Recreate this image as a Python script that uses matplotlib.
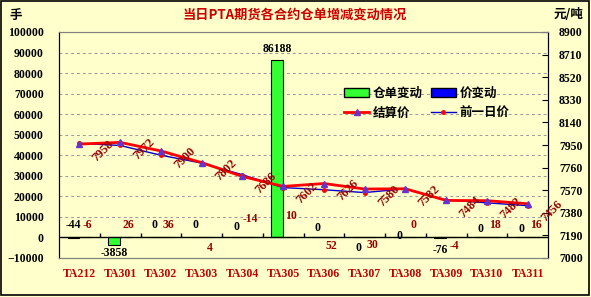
import matplotlib
matplotlib.use("Agg")
import matplotlib.pyplot as plt
import numpy as np
from matplotlib.patches import Patch, Rectangle
from matplotlib.lines import Line2D

# contracts and values
contracts = ['TA212', 'TA301', 'TA302', 'TA303', 'TA304', 'TA305',
             'TA306', 'TA307', 'TA308', 'TA309', 'TA310', 'TA311']
warrant_change = [-44, -3858, 0, 0, 0, 86188, 0, 0, 0, -76, 0, 0]
price_change = [-6, 26, 36, 4, -14, 10, 52, 30, 0, -4, 18, 16]
settle = [7958, 7972, 7900, 7802, 7686, 7602, 7626, 7580, 7582, 7484, 7482, 7456]
prev_price = [s - c for s, c in zip(settle, price_change)]

# where the value labels sit (left-axis units), as placed in the original
warrant_label_y = [6300, -7800, 6300, 6300, 5300, 91500, 4400, -4900, 500, -6300, 3900, 3900]
price_label_y = [6300, 6300, 6300, -5300, 9200, 10200, -4400, -3900, 6300, -4400, 6300, 6300]

bg = '#FFFFCC'
num_font = {'family': 'Liberation Serif', 'weight': 'bold', 'size': 8.5}
cjk = ['Noto Sans CJK SC', 'DejaVu Sans']

W, H = 591, 297
fig = plt.figure(figsize=(W / 100, H / 100), dpi=100, facecolor=bg)
ax = fig.add_axes([59 / W, 1 - 258 / H, (548 - 59) / W, (258 - 32) / H])
ax.set_facecolor(bg)
ax2 = ax.twinx()

x = np.arange(len(contracts))
bw = 0.29
ax.bar(x - bw / 2, warrant_change, bw, color='#33FF33', edgecolor='black', linewidth=0.8, zorder=3)
ax.bar(x + bw / 2, price_change, bw, color='#0000FF', edgecolor='black', linewidth=0.8, zorder=3)

ax.set_xlim(-0.5, len(contracts) - 0.5)
ax.set_ylim(-10000, 100000)
ax.set_yticks(np.arange(-10000, 100001, 10000))
ax.yaxis.grid(True, linestyle=(0, (3, 3)), color='#999999', linewidth=0.7)
ax.set_axisbelow(True)
ax.axhline(0, color='black', linewidth=1, zorder=4)
bounds = np.arange(0.5, len(contracts) - 0.5, 1)
ax.vlines(bounds, 0, 2000, color='black', linewidth=1, zorder=4)

ax.set_xticks(x)
ax.set_xticklabels(contracts, fontdict=num_font, color='#C00000')
ax.tick_params(axis='x', length=0, pad=7)
ax.tick_params(axis='y', length=0, pad=11)
for t in ax.get_yticklabels():
    t.set_fontproperties(matplotlib.font_manager.FontProperties(**num_font))

for name in ['top', 'bottom']:
    ax.spines[name].set_color('#808080')
ax.spines['left'].set_color('black')

for i in range(len(contracts)):
    ax.text(x[i] - bw / 2, warrant_label_y[i], str(warrant_change[i]), ha='center', va='center',
            color='black', zorder=5, **num_font)
    ax.text(x[i] + bw / 2 + 0.05, price_label_y[i], str(price_change[i]), ha='center', va='center',
            color='#990000', zorder=5, **num_font)

# price lines on the right axis
ax2.plot(x, prev_price, color='#0000CC', linewidth=1, marker='o', markersize=2.5,
         markerfacecolor='#FF0000', markeredgecolor='#FF0000', zorder=3)
ax2.plot(x, settle, color='#FF0000', linewidth=2, marker='^', markersize=5,
         markerfacecolor='#6633CC', markeredgecolor='#6633CC', zorder=4)
ax2.set_ylim(7000, 8900)
ax2.set_yticks(np.arange(7000, 8901, 190))
ax2.tick_params(axis='y', direction='in', length=4, pad=8, color='black')
for t in ax2.get_yticklabels():
    t.set_fontproperties(matplotlib.font_manager.FontProperties(**num_font))
ax2.spines['right'].set_color('black')
ax2.spines['top'].set_color('#808080')
ax2.spines['bottom'].set_color('#808080')

for i in range(len(contracts)):
    ax2.annotate(str(settle[i]), (x[i], settle[i]), xytext=(24, -7), textcoords='offset pixels',
                 ha='center', va='center', rotation=45, color='#990000', zorder=6,
                 family='Liberation Serif', weight='bold', size=9)

# legend
handles = [Patch(facecolor='#33FF33', edgecolor='black'),
           Line2D([], [], color='#FF0000', linewidth=2, marker='^', markersize=5,
                  markerfacecolor='#6633CC', markeredgecolor='#6633CC'),
           Patch(facecolor='#0000FF', edgecolor='black'),
           Line2D([], [], color='#0000CC', linewidth=1, marker='o', markersize=2.5,
                  markerfacecolor='#FF0000', markeredgecolor='#FF0000')]
labels = ['仓单变动', '结算价', '价变动', '前一日价']
ax2.legend(handles, labels, ncol=2, loc='upper left', bbox_to_anchor=(333 / W, 1 - 76 / H),
           bbox_transform=fig.transFigure, frameon=False, handlelength=2.0, handletextpad=0.3,
           columnspacing=0.6, labelspacing=0.5,
           prop={'family': cjk, 'weight': 'bold', 'size': 9})

fig.text(295 / W, 1 - 15 / H, '当日PTA期货各合约仓单增减变动情况', ha='center', va='center',
         color='#CC0000', fontsize=9.5, fontweight='bold', family=cjk)
fig.text(9 / W, 1 - 15 / H, '手', ha='left', va='center', fontsize=9, fontweight='bold', family=cjk)
fig.text(583 / W, 1 - 15 / H, '元/吨', ha='right', va='center', fontsize=9, fontweight='bold', family=cjk)

fig.patches.append(Rectangle((0.5 / W, 2 / H), (W - 2.5) / W, (H - 3) / H, transform=fig.transFigure,
                             fill=False, edgecolor='black', linewidth=1.2))

fig.savefig('out.png', dpi=100, facecolor=bg)
